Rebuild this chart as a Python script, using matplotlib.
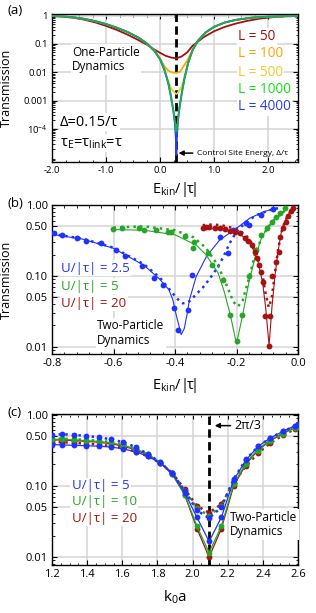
import numpy as np
import matplotlib
matplotlib.use("Agg")
import matplotlib.pyplot as plt
from matplotlib.ticker import FixedLocator, MultipleLocator, NullFormatter, LogLocator

plt.rcParams['font.family'] = ['Open Sans', 'DejaVu Sans']
plt.rcParams['mathtext.fontset'] = 'custom'
plt.rcParams['mathtext.rm'] = 'Open Sans'
plt.rcParams['mathtext.it'] = 'Open Sans'
plt.rcParams['axes.unicode_minus'] = False

# ---------------- panel (a): one-particle transmission ----------------
e_red = [-2.0, -1.8, -1.6, -1.4, -1.2, -1.0, -0.8, -0.6, -0.4, -0.25, -0.1, 0.0, 0.1, 0.2, 0.3,
         0.4, 0.5, 0.6, 0.7, 0.8, 1.0, 1.2, 1.4, 1.6, 1.85, 2.1, 2.3, 2.55]
t_red = [0.96, 0.91, 0.83, 0.71, 0.57, 0.43, 0.31, 0.21, 0.135, 0.095, 0.062, 0.048, 0.038, 0.033, 0.031,
         0.036, 0.05, 0.085, 0.12, 0.17, 0.28, 0.4, 0.52, 0.64, 0.78, 0.88, 0.93, 0.96]

e_orange = [-2.0, -1.8, -1.6, -1.4, -1.2, -1.0, -0.8, -0.6, -0.4, -0.25, -0.1, 0.0, 0.08, 0.15, 0.22, 0.3,
            0.37, 0.43, 0.5, 0.55, 0.6, 0.7, 0.85, 1.0, 1.2, 1.4, 1.7, 2.0, 2.3, 2.55]
t_orange = [0.97, 0.93, 0.86, 0.76, 0.63, 0.5, 0.37, 0.26, 0.165, 0.105, 0.056, 0.03, 0.016, 0.0115, 0.0098, 0.0094,
            0.0105, 0.016, 0.025, 0.04, 0.06, 0.13, 0.26, 0.4, 0.57, 0.7, 0.84, 0.91, 0.95, 0.97]

e_yellow = [-2.0, -1.8, -1.6, -1.4, -1.2, -1.0, -0.8, -0.6, -0.4, -0.25, -0.1, 0.0, 0.08, 0.15, 0.2, 0.25, 0.28,
            0.3, 0.32, 0.35, 0.4, 0.45, 0.52, 0.6, 0.7, 0.85, 1.0, 1.2, 1.4, 1.7, 2.0, 2.3, 2.55]
t_yellow = [0.97, 0.93, 0.86, 0.76, 0.63, 0.5, 0.37, 0.26, 0.165, 0.105, 0.055, 0.028, 0.012, 0.0048, 0.0028, 0.0021, 0.0018,
            0.0017, 0.0018, 0.0022, 0.0032, 0.0068, 0.022, 0.06, 0.13, 0.26, 0.4, 0.57, 0.7, 0.84, 0.91, 0.95, 0.97]

e_green = [-2.0, -1.8, -1.6, -1.4, -1.2, -1.0, -0.8, -0.6, -0.4, -0.25, -0.1, 0.0, 0.08, 0.15, 0.2, 0.24, 0.27,
           0.29, 0.3, 0.31, 0.33, 0.36, 0.4, 0.45, 0.52, 0.6, 0.7, 0.85, 1.0, 1.2, 1.4, 1.7, 2.0, 2.3, 2.55]
t_green = [0.97, 0.93, 0.86, 0.76, 0.63, 0.5, 0.37, 0.26, 0.165, 0.105, 0.055, 0.028, 0.012, 0.0042, 0.0014, 0.0005, 0.0002,
           0.0001, 0.00008, 0.0001, 0.00022, 0.0006, 0.0018, 0.006, 0.022, 0.06, 0.13, 0.26, 0.4, 0.57, 0.7, 0.84, 0.91, 0.95, 0.97]

e_blue = [-2.0, -1.8, -1.6, -1.4, -1.2, -1.0, -0.8, -0.6, -0.4, -0.25, -0.1, 0.0, 0.08, 0.15, 0.2, 0.24, 0.27,
          0.29, 0.3, 0.31, 0.33, 0.36, 0.4, 0.45, 0.52, 0.6, 0.7, 0.85, 1.0, 1.2, 1.4, 1.7, 2.0, 2.3, 2.55]
t_blue = [0.97, 0.93, 0.86, 0.76, 0.63, 0.5, 0.37, 0.26, 0.165, 0.105, 0.055, 0.028, 0.012, 0.0042, 0.0014, 0.0005, 0.00018,
          0.00005, 0.000012, 0.00005, 0.0002, 0.0006, 0.0018, 0.006, 0.022, 0.06, 0.13, 0.26, 0.4, 0.57, 0.7, 0.84, 0.91, 0.95, 0.97]

labels_a = ['L = 50', 'L = 100', 'L = 500', 'L = 1000', 'L = 4000']
control_e = 0.3

# ---------------- panel (b): two-particle vs energy ----------------
b_blue_dot_e = [-0.794, -0.767, -0.718, -0.69, -0.642, -0.592, -0.562, -0.506, -0.467, -0.44, -0.402, -0.391,
                -0.358, -0.344, -0.253, -0.228, -0.211, -0.168, -0.159, -0.119, -0.081]
b_blue_dot_t = [0.40, 0.378, 0.34, 0.314, 0.288, 0.232, 0.19, 0.14, 0.093, 0.075, 0.035, 0.0175,
                0.033, 0.103, 0.35, 0.213, 0.445, 0.56, 0.52, 0.72, 0.88]
b_blue_sol_e = [-0.8, -0.7, -0.6, -0.5, -0.45, -0.42, -0.407, -0.396, -0.386, -0.38, -0.37, -0.36, -0.353,
                -0.331, -0.298, -0.255, -0.2, -0.157, -0.113, -0.08, -0.07]
b_blue_sol_t = [0.385, 0.33, 0.245, 0.14, 0.09, 0.064, 0.046, 0.028, 0.019, 0.0148, 0.018, 0.03, 0.046,
                0.098, 0.187, 0.32, 0.47, 0.65, 0.8, 0.88, 0.9]
b_blue_dash_e = [-0.8, -0.7, -0.6, -0.5, -0.45, -0.42, -0.4, -0.385, -0.375, -0.36, -0.35, -0.331, -0.31,
                 -0.288, -0.265, -0.244, -0.222, -0.2, -0.168, -0.135, -0.09, -0.065]
b_blue_dash_t = [0.39, 0.335, 0.25, 0.145, 0.095, 0.066, 0.052, 0.044, 0.041, 0.042, 0.045, 0.055, 0.068,
                 0.09, 0.125, 0.18, 0.29, 0.42, 0.58, 0.72, 0.85, 0.9]

b_green_dot_e = [-0.601, -0.573, -0.516, -0.5, -0.462, -0.424, -0.413, -0.369, -0.337, -0.342, -0.293, -0.279,
                 -0.244, -0.22, -0.2, -0.181, -0.159, -0.137, -0.119, -0.102, -0.086, -0.07, -0.059, -0.042]
b_green_dot_t = [0.455, 0.47, 0.47, 0.445, 0.445, 0.41, 0.42, 0.365, 0.305, 0.25, 0.208, 0.143,
                 0.088, 0.028, 0.0119, 0.028, 0.1, 0.232, 0.378, 0.47, 0.58, 0.685, 0.76, 0.9]
b_green_sol_e = [-0.6, -0.5, -0.4, -0.33, -0.3, -0.26, -0.24, -0.22, -0.2, -0.18, -0.16, -0.14, -0.12, -0.1,
                 -0.08, -0.06, -0.04]
b_green_sol_t = [0.45, 0.44, 0.38, 0.27, 0.2, 0.11, 0.06, 0.028, 0.011, 0.028, 0.08, 0.18, 0.33, 0.48,
                 0.6, 0.73, 0.87]
b_green_dash_e = [-0.6, -0.5, -0.4, -0.34, -0.3, -0.26, -0.23, -0.21, -0.195, -0.18, -0.16, -0.14, -0.12, -0.1,
                  -0.08, -0.06, -0.04]
b_green_dash_t = [0.48, 0.5, 0.44, 0.35, 0.25, 0.14, 0.07, 0.043, 0.037, 0.045, 0.09, 0.2, 0.33, 0.47,
                  0.6, 0.72, 0.85]

b_red_dot_e = [-0.309, -0.298, -0.288, -0.271, -0.255, -0.239, -0.222, -0.206, -0.19, -0.173, -0.162, -0.151,
               -0.141, -0.133, -0.126, -0.119, -0.113, -0.108, -0.094, -0.092, -0.083, -0.07, -0.061, -0.059,
               -0.048, -0.039, -0.032, -0.024, -0.015]
b_red_dot_t = [0.47, 0.495, 0.485, 0.47, 0.47, 0.455, 0.435, 0.42, 0.40, 0.34, 0.315, 0.273,
               0.22, 0.178, 0.143, 0.115, 0.083, 0.027, 0.0104, 0.027, 0.098, 0.159, 0.22, 0.358,
               0.47, 0.58, 0.70, 0.81, 0.90]
b_red_sol_e = [-0.31, -0.25, -0.2, -0.17, -0.15, -0.13, -0.115, -0.105, -0.094, -0.085, -0.075, -0.065, -0.055,
               -0.045, -0.035, -0.025, -0.015]
b_red_sol_t = [0.47, 0.46, 0.41, 0.34, 0.26, 0.16, 0.08, 0.035, 0.0104, 0.035, 0.1, 0.22, 0.4,
               0.55, 0.67, 0.8, 0.9]
b_red_dash_e = [-0.31, -0.28, -0.25, -0.2, -0.17, -0.15, -0.13, -0.115, -0.105, -0.095, -0.085, -0.075, -0.065,
                -0.055, -0.045, -0.035, -0.025, -0.015]
b_red_dash_t = [0.52, 0.53, 0.52, 0.46, 0.38, 0.29, 0.18, 0.1, 0.055, 0.036, 0.05, 0.11, 0.23,
                0.4, 0.55, 0.68, 0.8, 0.9]
labels_b = ['U/|τ| = 2.5', 'U/|τ| = 5', 'U/|τ| = 20']

# ---------------- panel (c): two-particle vs k0 a ----------------
k0a = [1.2, 1.257, 1.326, 1.396, 1.466, 1.536, 1.606, 1.676, 1.745, 1.815, 1.885, 1.955, 2.025, 2.094,
       2.164, 2.234, 2.304, 2.374, 2.443, 2.513, 2.583, 2.6]
c_blue_sol = [0.38, 0.375, 0.37, 0.365, 0.36, 0.35, 0.33, 0.30, 0.26, 0.21, 0.15, 0.08, 0.036, 0.0165,
              0.036, 0.12, 0.23, 0.36, 0.47, 0.58, 0.70, 0.73]
c_blue_dash = [0.52, 0.53, 0.52, 0.50, 0.48, 0.45, 0.41, 0.35, 0.28, 0.215, 0.15, 0.085, 0.045, 0.035,
               0.05, 0.125, 0.235, 0.36, 0.47, 0.58, 0.69, 0.72]
c_green_sol = [0.45, 0.45, 0.44, 0.43, 0.42, 0.40, 0.37, 0.33, 0.28, 0.215, 0.145, 0.075, 0.027, 0.0115,
               0.027, 0.105, 0.21, 0.33, 0.44, 0.55, 0.67, 0.70]
c_green_dash = [0.46, 0.46, 0.455, 0.44, 0.43, 0.41, 0.38, 0.33, 0.275, 0.21, 0.15, 0.085, 0.048, 0.038,
                0.052, 0.11, 0.20, 0.31, 0.42, 0.53, 0.65, 0.68]
c_red_sol = [0.44, 0.44, 0.43, 0.42, 0.41, 0.39, 0.36, 0.32, 0.27, 0.21, 0.145, 0.075, 0.025, 0.0099,
             0.025, 0.10, 0.20, 0.32, 0.43, 0.54, 0.66, 0.69]
c_red_dash = [0.41, 0.41, 0.40, 0.39, 0.38, 0.36, 0.34, 0.30, 0.26, 0.21, 0.15, 0.09, 0.052, 0.042,
              0.055, 0.11, 0.19, 0.29, 0.40, 0.51, 0.63, 0.66]
labels_c = ['U/|τ| = 5', 'U/|τ| = 10', 'U/|τ| = 20']

BLUE = '#1f32ff'
GREEN = '#26a626'
RED = '#a51212'
GRID = '#d4d4d4'
XLAB = r'E$_{\mathrm{kin}}$/$|\!\mathrm{\tau}\!|$'


def style_axes(ax, tick_size):
    ax.set_yscale('log')
    ax.grid(True, which='major', color=GRID, lw=1.1, zorder=0)
    ax.set_axisbelow(True)
    ax.tick_params(which='both', direction='in', top=True, right=True, labelsize=tick_size, pad=3)
    ax.tick_params(which='major', length=3.5, width=0.8)
    ax.tick_params(which='minor', length=1.8, width=0.6)
    ax.yaxis.set_minor_locator(LogLocator(base=10, subs=np.arange(2, 10)))
    ax.yaxis.set_minor_formatter(NullFormatter())
    for s in ax.spines.values():
        s.set_linewidth(1.0)


fig = plt.figure(figsize=(3.16, 6.13), dpi=100)
W = 316.0
H = 613.0
ax_a = fig.add_axes([52 / W, 1 - 162 / H, 246 / W, 148 / H])
ax_b = fig.add_axes([52 / W, 1 - 354 / H, 246 / W, 149 / H])
ax_c = fig.add_axes([52 / W, 1 - 565 / H, 246 / W, 151 / H])

box = dict(facecolor='white', edgecolor='none', pad=1.0)

# ---- (a)
ax = ax_a
style_axes(ax, 6.8)
ax.axvline(control_e, color='black', lw=2.0, dashes=(3, 1.6), zorder=2)
ax.plot(e_red, t_red, color='#a50f0f', lw=1.3, zorder=3)
ax.plot(e_orange, t_orange, color='#ffa500', lw=1.3, zorder=3)
ax.plot(e_yellow, t_yellow, color='#e8cf2a', lw=1.3, zorder=3)
ax.plot(e_blue, t_blue, color='#2a3cf0', lw=1.3, zorder=3)
ax.plot(e_green, t_green, color='#18b050', lw=1.3, zorder=3)
ax.set_xlim(-2.0, 2.55)
ax.set_ylim(6.8e-6, 1.13)
ax.xaxis.set_major_locator(FixedLocator([-2, -1, 0, 1, 2]))
ax.set_xticklabels(['-2.0', '-1.0', '0.0', '1.0', '2.0'])
ax.xaxis.set_minor_locator(MultipleLocator(0.25))
ax.yaxis.set_major_locator(FixedLocator([1e-4, 1e-3, 1e-2, 1e-1, 1]))
ax.set_yticklabels(['10$^{-4}$', '0.001', '0.01', '0.1', '1'])
ax.set_ylabel('Transmission', fontsize=9)
ax.yaxis.set_label_coords(-0.16, 0.5)
ax.set_xlabel(XLAB, fontsize=10.5)
ax.xaxis.set_label_coords(0.5, -0.12)
ax.text(0.081, 0.693, 'One-Particle\nDynamics', transform=ax.transAxes, fontsize=8.5,
        ha='left', va='center', linespacing=1.15, bbox=box, zorder=4)
ax.text(0.033, 0.27, 'Δ=0.15/τ', transform=ax.transAxes, fontsize=10.5, ha='left', va='center',
        bbox=box, zorder=4)
ax.text(0.033, 0.128, 'τ$_{\\mathrm{E}}$=τ$_{\\mathrm{link}}$=τ', transform=ax.transAxes, fontsize=10.5,
        ha='left', va='center', bbox=box, zorder=4)
colors_a = ['#a50f0f', '#ffa500', '#e8cf2a', '#14e014', '#2a3cf0']
ypos_a = [0.845, 0.73, 0.608, 0.493, 0.372]
for lab, col, yy in zip(labels_a, colors_a, ypos_a):
    ax.text(0.756, yy, lab, color=col, transform=ax.transAxes, fontsize=9.8, ha='left', va='center',
            bbox=box, zorder=4)
ax.annotate('Control Site Energy, Δ/τ', xy=(0.34, 1.4e-5), xytext=(0.68, 1.4e-5),
            fontsize=6, ha='left', va='center',
            arrowprops=dict(arrowstyle='-|>', color='black', lw=1.1, mutation_scale=7,
                            shrinkA=1, shrinkB=0), zorder=5)

# ---- (b)
ax = ax_b
style_axes(ax, 8)
ax.plot(b_blue_sol_e, b_blue_sol_t, color=BLUE, lw=0.8, zorder=3)
ax.plot(b_blue_dash_e, b_blue_dash_t, color=BLUE, lw=1.8, ls=':', zorder=3)
ax.plot(b_blue_dot_e, b_blue_dot_t, 'o', color=BLUE, ms=4.2, mec='none', zorder=4)
ax.plot(b_green_sol_e, b_green_sol_t, color=GREEN, lw=0.8, zorder=3)
ax.plot(b_green_dash_e, b_green_dash_t, color=GREEN, lw=1.8, ls=':', zorder=3)
ax.plot(b_green_dot_e, b_green_dot_t, 'o', color=GREEN, ms=4.2, mec='none', zorder=4)
ax.plot(b_red_sol_e, b_red_sol_t, color=RED, lw=0.8, zorder=3)
ax.plot(b_red_dash_e, b_red_dash_t, color=RED, lw=1.8, ls=':', zorder=3)
ax.plot(b_red_dot_e, b_red_dot_t, 'o', color=RED, ms=4.2, mec='none', zorder=4)
ax.set_xlim(-0.8, 0.0)
ax.set_ylim(0.0079, 1.0)
ax.xaxis.set_major_locator(FixedLocator([-0.8, -0.6, -0.4, -0.2, 0.0]))
ax.set_xticklabels(['-0.8', '-0.6', '-0.4', '-0.2', '0.0'])
ax.xaxis.set_minor_locator(MultipleLocator(0.04))
ax.yaxis.set_major_locator(FixedLocator([0.01, 0.05, 0.1, 0.5, 1.0]))
ax.set_yticklabels(['0.01', '0.05', '0.10', '0.50', '1.00'])
ax.set_ylabel('Transmission', fontsize=9)
ax.yaxis.set_label_coords(-0.16, 0.5)
ax.set_xlabel(XLAB, fontsize=10.5)
ax.xaxis.set_label_coords(0.5, -0.15)
for lab, col, yy in zip(labels_b, [BLUE, GREEN, RED], [0.577, 0.456, 0.342]):
    ax.text(0.037, yy, lab, color=col, transform=ax.transAxes, fontsize=9.5, ha='left', va='center',
            bbox=box, zorder=5)
ax.text(0.183, 0.141, 'Two-Particle\nDynamics', transform=ax.transAxes, fontsize=8.5,
        ha='left', va='center', linespacing=1.15, bbox=box, zorder=5)

# ---- (c)
ax = ax_c
style_axes(ax, 8)
ax.axvline(2 * np.pi / 3, color='black', lw=2.0, dashes=(3, 1.6), zorder=2)
for sol, dash, col in [(c_red_sol, c_red_dash, RED), (c_green_sol, c_green_dash, GREEN),
                       (c_blue_sol, c_blue_dash, BLUE)]:
    ax.plot(k0a, dash, color=col, lw=1.8, ls=':', marker='o', ms=4.2, mec='none', zorder=3)
    ax.plot(k0a, sol, color=col, lw=0.9, marker='o', ms=4.2, mec='none', zorder=3)
ax.set_xlim(1.2, 2.6)
ax.set_ylim(0.0077, 1.02)
ax.xaxis.set_major_locator(FixedLocator([1.2, 1.4, 1.6, 1.8, 2.0, 2.2, 2.4, 2.6]))
ax.set_xticklabels(['1.2', '1.4', '1.6', '1.8', '2.0', '2.2', '2.4', '2.6'])
ax.xaxis.set_minor_locator(MultipleLocator(0.05))
ax.yaxis.set_major_locator(FixedLocator([0.01, 0.05, 0.1, 0.5, 1.0]))
ax.set_yticklabels(['0.01', '0.05', '0.10', '0.50', '1.00'])
ax.set_xlabel('k$_{\\mathrm{0}}$a', fontsize=11)
ax.xaxis.set_label_coords(0.5, -0.155)
for lab, col, yy in zip(labels_c, [BLUE, GREEN, RED], [0.525, 0.419, 0.309]):
    ax.text(0.081, yy, lab, color=col, transform=ax.transAxes, fontsize=9.5, ha='left', va='center',
            bbox=box, zorder=5)
ax.text(0.724, 0.268, 'Two-Particle\nDynamics', transform=ax.transAxes, fontsize=8.5,
        ha='left', va='center', linespacing=1.15, bbox=box, zorder=5)
ax.annotate('2π/3', xy=(2.126, 0.70), xytext=(2.24, 0.70), fontsize=9, ha='left', va='center',
            arrowprops=dict(arrowstyle='-|>', color='black', lw=1.1, mutation_scale=7,
                            shrinkA=1, shrinkB=0), zorder=5)

fig.text(8 / W, 1 - 10 / H, '(a)', fontsize=9.5, ha='left', va='center')
fig.text(8 / W, 1 - 203 / H, '(b)', fontsize=9.5, ha='left', va='center')
fig.text(8 / W, 1 - 412 / H, '(c)', fontsize=9.5, ha='left', va='center')

fig.savefig('out.png', dpi=100)
